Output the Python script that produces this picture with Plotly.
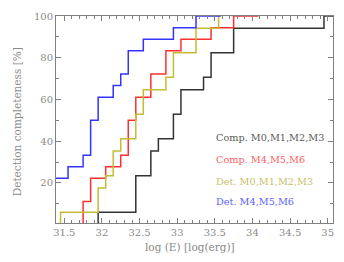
import plotly.graph_objects as go

# Step edges (log E) and cumulative completeness values (%)
comp_m0m3_edges = [31.95, 32.45, 32.65, 32.75, 32.95, 33.05, 33.35, 33.45, 33.75, 34.95]
comp_m0m3_vals = [5.9, 23.5, 35.3, 41.2, 52.9, 64.7, 70.6, 82.4, 94.1, 100.0]
comp_m0m3_end = 35.1

comp_m4m6_edges = [31.75, 31.85, 32.05, 32.25, 32.35, 32.45, 32.65, 32.85, 33.05, 33.45, 33.75]
comp_m4m6_vals = [11.1, 22.2, 27.8, 33.3, 50.0, 61.1, 72.2, 83.3, 88.9, 94.4, 100.0]
comp_m4m6_end = 34.08

det_m0m3_edges = [31.45, 31.95, 32.05, 32.15, 32.25, 32.45, 32.55, 32.85, 32.95, 33.25, 33.55]
det_m0m3_vals = [5.9, 17.6, 23.5, 35.3, 41.2, 52.9, 64.7, 70.6, 82.4, 94.1, 100.0]
det_m0m3_end = 33.55

det_m4m6_edges = [31.35, 31.55, 31.75, 31.85, 31.95, 32.15, 32.25, 32.35, 32.55, 32.95, 33.25]
det_m4m6_vals = [22.2, 27.8, 33.3, 50.0, 61.1, 66.7, 72.2, 83.3, 88.9, 94.4, 100.0]
det_m4m6_end = 33.58

labels = ["Comp. M0,M1,M2,M3", "Comp. M4,M5,M6", "Det. M0,M1,M2,M3", "Det. M4,M5,M6"]
line_colors = ["#333333", "#ff2f2f", "#c4bc34", "#3434ff"]
text_colors = ["#5a5a5a", "#ff6060", "#c8c068", "#6060ff"]
label_y = [41.6, 31.2, 20.8, 10.9]
label_x = 33.49

x_ticks = [31.5, 32, 32.5, 33, 33.5, 34, 34.5, 35]
x_ticklabels = ["31.5", "32", "32.5", "33", "33.5", "34", "34.5", "35"]
y_ticks = [20, 40, 60, 80, 100]

series = [
    (comp_m0m3_edges, comp_m0m3_vals, comp_m0m3_end),
    (comp_m4m6_edges, comp_m4m6_vals, comp_m4m6_end),
    (det_m0m3_edges, det_m0m3_vals, det_m0m3_end),
    (det_m4m6_edges, det_m4m6_vals, det_m4m6_end),
]

fig = go.Figure()
for (edges, vals, end), col in zip(series, line_colors):
    xs = [edges[0]] + list(edges) + [end]
    ys = [0] + list(vals) + [vals[-1]]
    fig.add_trace(go.Scatter(x=xs, y=ys, mode="lines", line=dict(color=col, width=1.5, shape="hv"),
                             hoverinfo="skip", cliponaxis=True))

font_family = "DejaVu Serif"
axis_col = "#808080"
text_col = "#8a8a8a"

annotations = []
for lab, tc, yy in zip(labels, text_colors, label_y):
    annotations.append(dict(x=label_x, y=yy, xref="x", yref="y", text=lab, showarrow=False,
                            xanchor="left", yanchor="middle",
                            font=dict(family=font_family, size=9.7, color=tc)))
annotations.append(dict(x=0.484, y=-0.114, xref="paper", yref="paper", text="log (E) [log(erg)]",
                        showarrow=False, xanchor="center", yanchor="middle",
                        font=dict(family=font_family, size=10.5, color=text_col)))
annotations.append(dict(x=-0.142, y=0.49, xref="paper", yref="paper", text="Detection completeness [%]",
                        showarrow=False, xanchor="center", yanchor="middle", textangle=-90,
                        font=dict(family=font_family, size=10.5, color=text_col)))

fig.update_layout(
    width=344, height=262,
    margin=dict(l=56, r=11, t=16, b=39),
    paper_bgcolor="white", plot_bgcolor="white",
    showlegend=False,
    annotations=annotations,
    xaxis=dict(range=[31.39, 35.07], tickvals=x_ticks, ticktext=x_ticklabels,
               ticks="inside", ticklen=5, tickwidth=1, tickcolor=axis_col,
               showline=True, linecolor=axis_col, linewidth=1, mirror="allticks",
               showgrid=False, zeroline=False, automargin=False,
               tickfont=dict(family=font_family, size=10, color=text_col),
               minor=dict(dtick=0.1, tick0=31.5, ticks="inside", ticklen=3, tickcolor=axis_col, showgrid=False)),
    yaxis=dict(range=[0.8, 100], tickvals=y_ticks,
               ticks="inside", ticklen=5, tickwidth=1, tickcolor=axis_col,
               showline=True, linecolor=axis_col, linewidth=1, mirror="allticks",
               showgrid=False, zeroline=False, automargin=False,
               tickfont=dict(family=font_family, size=10, color=text_col),
               minor=dict(dtick=10, tick0=0, ticks="inside", ticklen=3, tickcolor=axis_col, showgrid=False)),
)

fig.write_html("out.html", config={"displayModeBar": False},
               post_script="document.body.style.margin='0';document.body.style.overflow='hidden';")
